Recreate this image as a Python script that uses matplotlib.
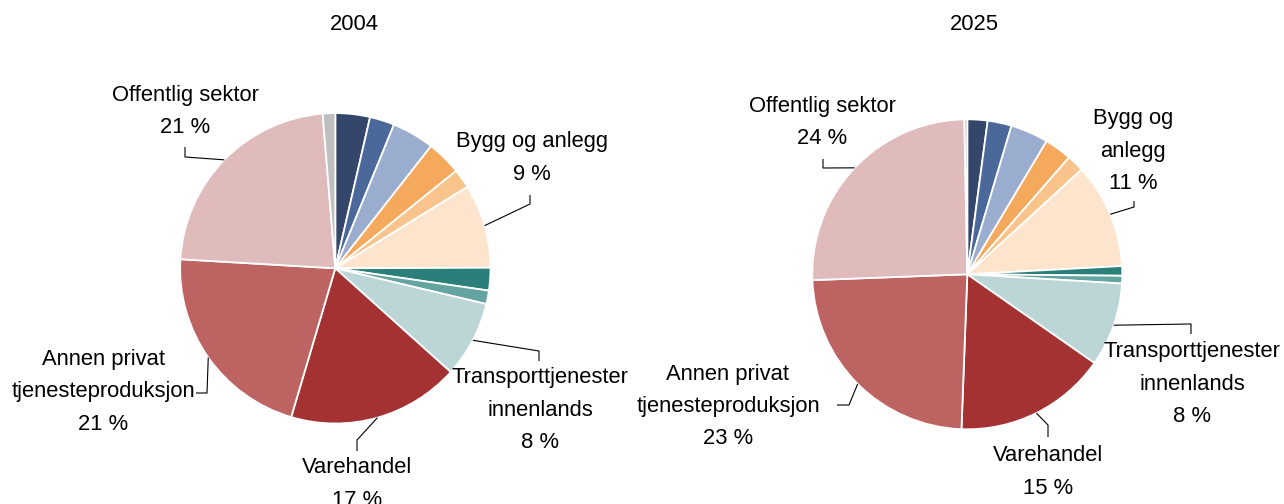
import matplotlib
matplotlib.use("Agg")
import matplotlib.pyplot as plt
import numpy as np

# ---------------- data ----------------
categories = ["", "", "", "", "", "Bygg og anlegg", "", "",
              "Transporttjenester innenlands", "Varehandel",
              "Annen privat tjenesteproduksjon", "Offentlig sektor", ""]
years = ["2004", "2025"]
values_2004 = [3.6, 2.57, 4.41, 3.62, 2.01, 8.73, 2.36, 1.40, 7.95, 17.94, 21.34, 22.77, 1.30]
values_2025 = [2.1, 2.5, 3.95, 2.85, 1.8, 10.95, 1.0, 0.8, 8.75, 15.9, 23.8, 25.3, 0.3]
shown_pct_2004 = [9, 8, 17, 21, 21]   # Bygg, Transport, Varehandel, Annen privat, Offentlig
shown_pct_2025 = [11, 8, 15, 23, 24]

colors = ["#344669", "#4a6899", "#9badcf", "#f5a95c", "#f8c48b", "#fde4cc",
          "#2b7f7b", "#63a3a0", "#bcd6d8", "#a43233", "#bd6361", "#e0bbbc", "#bfbfbf"]

# ---------------- layout (pixel coords, y from top) ----------------
W, H = 1284, 504
labelled_idx = [5, 8, 9, 10, 11]
label_names = {
    "2004": ["Bygg og anlegg", "Transporttjenester\ninnenlands", "Varehandel",
             "Annen privat\ntjenesteproduksjon", "Offentlig sektor"],
    "2025": ["Bygg og\nanlegg", "Transporttjenester\ninnenlands", "Varehandel",
             "Annen privat\ntjenesteproduksjon", "Offentlig sektor"],
}
pie_layout = {
    "2004": dict(center=(335.3, 268.3), radius=155.2, title=(354, 25),
                 text=[(532, 158), (540, 410), (357, 484), (103, 392), (185, 111.5)],
                 elbow=[(530, 204), (539, 351), (357, 440), (207, 393), (185, 157)],
                 end=[(530, 195), (539, 361), (357, 451), (196, 393), (185, 147)]),
    "2025": dict(center=(967.3, 274.3), radius=155.0, title=(974, 25),
                 text=[(1133, 151), (1192, 384), (1048, 472), (728, 406.7), (822, 122.5)],
                 elbow=[(1134, 207), (1191, 324), (1048, 425), (849, 405), (823, 168)],
                 end=[(1134, 201), (1191, 334), (1048, 437), (837, 405), (823, 159)]),
}

FONT = "Liberation Sans"
FS = 15.8
LS = 1.7

fig = plt.figure(figsize=(W / 100, H / 100), dpi=100)
ax = fig.add_axes([0, 0, 1, 1])


def up(y):
    return H - y


for year, vals, pcts in [("2004", values_2004, shown_pct_2004),
                         ("2025", values_2025, shown_pct_2025)]:
    lay = pie_layout[year]
    cx, cy = lay["center"]
    r = lay["radius"]
    wedges, _ = ax.pie(vals, colors=colors, startangle=90, counterclock=False,
                       center=(cx, up(cy)), radius=r, normalize=True,
                       wedgeprops=dict(edgecolor="white", linewidth=1.3))
    ax.text(lay["title"][0], up(lay["title"][1]), year, ha="center", va="center",
            fontsize=FS, family=FONT, color="black")
    for k, idx in enumerate(labelled_idx):
        w = wedges[idx]
        mid = np.deg2rad((w.theta1 + w.theta2) / 2)
        ex = cx + r * np.cos(mid)
        ey = up(cy) + r * np.sin(mid)
        elx, ely = lay["elbow"][k]
        enx, eny = lay["end"][k]
        ax.plot([ex, elx, enx], [ey, up(ely), up(eny)], color="black", lw=0.8,
                solid_capstyle="butt")
        tx, ty = lay["text"][k]
        ax.text(tx, up(ty), f"{label_names[year][k]}\n{pcts[k]} %",
                ha="center", va="center", multialignment="center",
                fontsize=FS, family=FONT, linespacing=LS, color="black")

ax.set_xlim(0, W)
ax.set_ylim(0, H)
ax.set_aspect("equal")
ax.axis("off")

fig.savefig("out.png", dpi=100)
